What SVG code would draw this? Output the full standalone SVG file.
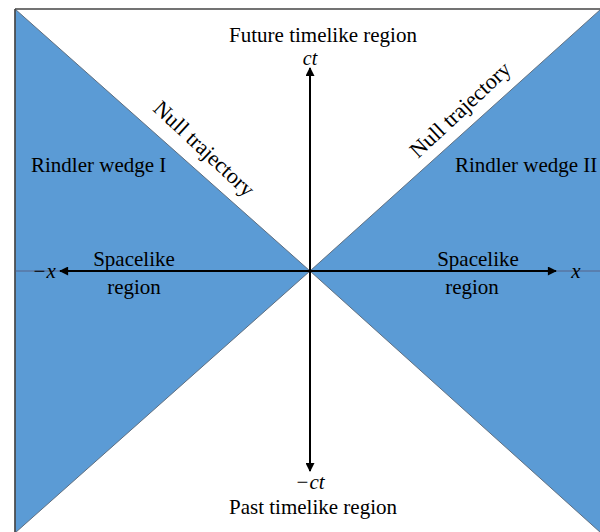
<svg xmlns="http://www.w3.org/2000/svg" width="600" height="532" viewBox="0 0 600 532">
<style>
.wedge{fill:#5b9bd5;stroke:#5f6f80;stroke-width:1}
.t{font-family:"Liberation Serif","Times New Roman",serif;font-size:21px;fill:#000}
.n{font-size:22px}
.i{font-style:italic}
.ax{stroke:#000;stroke-width:2;fill:none}
</style>
<defs>
<marker id="ah" viewBox="0 0 10 10" refX="9" refY="5" markerWidth="5" markerHeight="4.5" orient="auto-start-reverse" markerUnits="strokeWidth">
<path d="M0,0 L10,5 L0,10 z" fill="#000"/>
</marker>
</defs>
<rect x="0" y="0" width="600" height="532" fill="#fff"/>
<g id="wedge-left"><polygon class="wedge" points="15,9 310,271 15,533"/></g>
<g id="wedge-right"><polygon class="wedge" points="601,9 310,271 601,533"/></g>
<g id="frame">
<line x1="15" y1="9" x2="600" y2="9" stroke="#444" stroke-width="1.5"/>
<line x1="15" y1="9" x2="15" y2="532" stroke="#444" stroke-width="1.5"/>
</g>
<g id="connectors">
<line x1="15" y1="271" x2="600" y2="271" stroke="#557" stroke-width="0.8"/>
<line class="ax" x1="60" y1="271" x2="556" y2="271" marker-start="url(#ah)" marker-end="url(#ah)"/>
<line class="ax" x1="310" y1="68" x2="310" y2="471" marker-start="url(#ah)" marker-end="url(#ah)"/>
</g>
<g id="labels">
<text class="t" x="323" y="42" text-anchor="middle">Future timelike region</text>
<text class="t i" x="310" y="65" text-anchor="middle" style="font-size:20px">ct</text>
<text class="t" x="313" y="514" text-anchor="middle">Past timelike region</text>
<text class="t i" x="310" y="489" text-anchor="middle">−ct</text>
<text class="t" x="31" y="172">Rindler wedge I</text>
<text class="t" x="455" y="172">Rindler wedge II</text>
<text class="t" x="134" y="266" text-anchor="middle">Spacelike</text>
<text class="t" x="134" y="294" text-anchor="middle">region</text>
<text class="t" x="478" y="266" text-anchor="middle">Spacelike</text>
<text class="t" x="472" y="294" text-anchor="middle">region</text>
<text class="t i" x="44" y="278" text-anchor="middle">−x</text>
<text class="t i" x="576" y="278" text-anchor="middle">x</text>
<text class="t n" x="0" y="0" transform="translate(152,110) rotate(43)">Null trajectory</text>
<text class="t n" x="0" y="0" transform="translate(418,159) rotate(-43)">Null trajectory</text>
</g>
</svg>
